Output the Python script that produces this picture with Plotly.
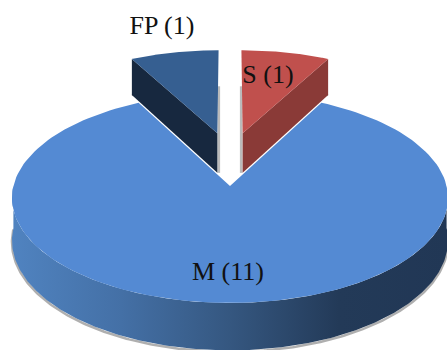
import numpy as np
import plotly.graph_objects as go

# Pie data
categories = ["FP", "S", "M"]
counts = [1, 1, 11]
top_colors = ["#365F91", "#C0504D", "#548AD3"]
side_colors = ["#17283F", "#8A3A37", None]
label_xy = [(162, 27), (268, 76), (228, 273)]

# Rim shading, left to right
rim_stops = [
    (0.0, "rgb(80,131,192)"),
    (0.25, "rgb(68,112,166)"),
    (0.5, "rgb(53,87,128)"),
    (0.75, "rgb(35,58,88)"),
    (1.0, "rgb(33,55,85)"),
]

# Perspective view of the pie disc, in page pixels
CX, CY = 230, 186
RX, RY = 216.6, 103.6
TILT = 0.114
DEPTH = 42
PULL = {"FP": (-0.062, 0.54), "S": (0.062, 0.54), "M": (0.0, 0.0)}
SHADOW = "rgba(120,120,120,0.5)"


def project(u, v, z=0.0):
    w = 1 + TILT * v
    return CX + RX * u / w, CY - RY * v / w + DEPTH * z / w


def wedge_angles():
    # Angles run clockwise from twelve o'clock; FP ends where S begins
    total = sum(counts)
    step = [c / total * 2 * np.pi for c in counts]
    return {
        "FP": (-step[0], 0.0),
        "S": (0.0, step[1]),
        "M": (step[1], step[1] + step[2]),
    }


def wedge_outline(name, a0, a1, z=0.0):
    du, dv = PULL[name]
    t = np.linspace(a0, a1, 160)
    us = np.concatenate([[0.0], np.sin(t), [0.0]]) + du
    vs = np.concatenate([[0.0], np.cos(t), [0.0]]) + dv
    return project(us, vs, z)


fig = go.Figure()


def fill(xs, ys, color, width=0.0):
    fig.add_trace(go.Scatter(
        x=list(xs), y=list(ys), mode="lines", fill="toself", fillcolor=color,
        line=dict(color=color, width=width), hoverinfo="skip", showlegend=False,
    ))


def stroke(xs, ys, color, width):
    fig.add_trace(go.Scatter(
        x=list(xs), y=list(ys), mode="lines",
        line=dict(color=color, width=width), hoverinfo="skip", showlegend=False,
    ))


angles = wedge_angles()

# Pulled-out wedges: soft shadow, inner wall, then the top face
for name, top, side in zip(categories[:2], top_colors, side_colors):
    a0, a1 = angles[name]
    edge = a0 if name == "FP" else a1
    du, dv = PULL[name]
    p_u = np.array([du, du + np.sin(edge)])
    p_v = np.array([dv, dv + np.cos(edge)])
    x_top, y_top = project(p_u, p_v, 0)
    x_bot, y_bot = project(p_u, p_v, 1)
    inward = 1.5 if name == "FP" else -1.5
    stroke([x_top[0] + inward] * 2, [y_top[0] - 47, y_bot[0]], SHADOW, 2.5)
    stroke([x_bot[1], x_bot[1] + 8 * np.sign(inward)], [y_bot[1], y_bot[1]], SHADOW, 2)
    fill(list(x_top) + list(x_bot[::-1]), list(y_top) + list(y_bot[::-1]), side)
    x, y = wedge_outline(name, a0, a1)
    fill(x, y, top)

# Rim of the main slice as one band with a horizontal gradient
a0, a1 = angles["M"]
rim = np.linspace(np.pi / 2, 3 * np.pi / 2, 260)
rx_top, ry_top = project(np.sin(rim), np.cos(rim), 0)
rx_bot, ry_bot = project(np.sin(rim), np.cos(rim), 1)
stroke(rx_bot, ry_bot + 1.5, "rgba(110,110,110,0.55)", 2.5)
fig.add_trace(go.Scatter(
    x=list(rx_top) + list(rx_bot[::-1]), y=list(ry_top) + list(ry_bot[::-1]),
    mode="lines", fill="toself", line=dict(width=0),
    fillgradient=dict(type="horizontal", colorscale=rim_stops),
    hoverinfo="skip", showlegend=False,
))

x, y = wedge_outline("M", a0, a1)
fill(x, y, top_colors[2])

# Slice labels with their counts
fig.add_trace(go.Scatter(
    x=[p[0] for p in label_xy], y=[p[1] for p in label_xy], mode="text",
    text=[f"{n} ({c})" for n, c in zip(categories, counts)],
    textposition="middle center",
    textfont=dict(family="Liberation Serif", size=26, color="#111111"),
    hoverinfo="skip", showlegend=False,
))

fig.update_layout(
    width=447, height=350, margin=dict(l=0, r=0, t=0, b=0),
    paper_bgcolor="white", plot_bgcolor="white",
    xaxis=dict(range=[0, 447], visible=False, fixedrange=True),
    yaxis=dict(range=[350, 0], visible=False, fixedrange=True),
)
fig.write_html("out.html", config={"displayModeBar": False})
